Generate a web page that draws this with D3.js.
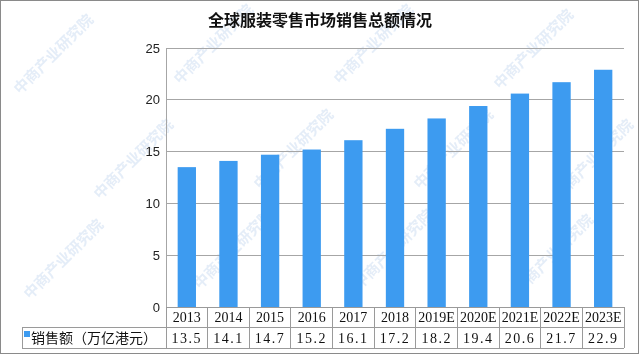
<!DOCTYPE html>
<html><head><meta charset="utf-8">
<script src="https://cdn.jsdelivr.net/npm/d3@7/dist/d3.min.js"></script>
<style>body{margin:0;background:#fff}svg{display:block}</style>
</head><body>
<svg id="c" width="640" height="356"></svg>
<script>
const categories = ["2013","2014","2015","2016","2017","2018","2019E","2020E","2021E","2022E","2023E"];
const values = [13.5,14.1,14.7,15.2,16.1,17.2,18.2,19.4,20.6,21.7,22.9];
const yTicks = [0,5,10,15,20,25];
const seriesName = "销售额（万亿港元）";
const title = "全球服装零售市场销售总额情况";

const svg = d3.select("#c");
const L = 166, R = 624, T = 48, B = 307;
const rowMid = 327, rowBot = 348, legL = 22;
const grid = "#a6a6a6", tbl = "#9a9a9a";

// watermark (kept fully inside the frame)
const wm = svg.append("g").attr("fill","#d3e1f3").attr("opacity",0.6)
  .attr("font-family","Noto Sans CJK SC").attr("font-size",15).attr("font-weight","bold");
const wmPos = [[20,95],[180,85],[340,85],[500,90],
  [100,200],[260,190],[420,190],[560,200],
  [30,300],[200,290],[360,290],[520,295]];
wmPos.forEach(([x,y])=>{
  wm.append("text").attr("transform",`translate(${x},${y}) rotate(-45)`).text("中商产业研究院");
});

svg.append("text").attr("x",320).attr("y",26).attr("text-anchor","middle")
  .attr("font-family","Noto Sans CJK SC").attr("font-weight","bold").attr("font-size",16)
  .attr("fill","#111").text(title);

const x = d3.scaleBand().domain(categories).range([L,R]).paddingInner(0.56).paddingOuter(0.28);
const y = d3.scaleLinear().domain([0,25]).range([B,T]);

// gridlines
svg.append("g").selectAll("line").data(yTicks.filter(t=>t>0)).join("line")
  .attr("x1",L).attr("x2",R).attr("y1",d=>y(d)).attr("y2",d=>y(d))
  .attr("stroke",grid).attr("stroke-width",1).attr("shape-rendering","crispEdges");
svg.append("line").attr("x1",L).attr("x2",L).attr("y1",T).attr("y2",rowBot)
  .attr("stroke",grid).attr("shape-rendering","crispEdges");

// y axis labels
const yAxis = d3.axisLeft(y).tickValues(yTicks).tickSize(0).tickPadding(6);
const ya = svg.append("g").attr("transform",`translate(${L},0)`).call(yAxis);
ya.select(".domain").remove();
ya.selectAll("text").attr("font-family","Liberation Sans, Arial").attr("font-size",13).attr("fill","#222");

// bars
svg.append("g").selectAll("rect").data(values).join("rect")
  .attr("x",(d,i)=>x(categories[i])).attr("width",x.bandwidth())
  .attr("y",d=>y(d)).attr("height",d=>B-y(d)).attr("fill","#3d9bf0");

// table
const bounds = d3.range(categories.length+1).map(i=>L + i*(R-L)/categories.length);
const tg = svg.append("g").attr("stroke",tbl).attr("shape-rendering","crispEdges");
tg.append("line").attr("x1",L).attr("x2",R).attr("y1",B).attr("y2",B);
tg.append("line").attr("x1",legL).attr("x2",R).attr("y1",rowMid).attr("y2",rowMid);
tg.append("line").attr("x1",legL).attr("x2",R).attr("y1",rowBot).attr("y2",rowBot);
tg.append("line").attr("x1",legL).attr("x2",legL).attr("y1",rowMid).attr("y2",rowBot);
tg.selectAll("line.v").data(bounds).join("line").attr("class","v")
  .attr("x1",d=>d).attr("x2",d=>d).attr("y1",B).attr("y2",rowBot);

const cx = c => x(c) + x.bandwidth()/2;
svg.append("g").selectAll("text").data(categories).join("text")
  .attr("x",d=>cx(d)).attr("y",322).attr("text-anchor","middle")
  .attr("font-family","Liberation Serif, DejaVu Serif").attr("font-size",14).attr("fill","#111")
  .text(d=>d);
svg.append("g").selectAll("text").data(values).join("text")
  .attr("x",(d,i)=>cx(categories[i])).attr("y",343).attr("text-anchor","middle")
  .attr("font-family","Liberation Serif, DejaVu Serif").attr("font-size",14).attr("fill","#111")
  .attr("letter-spacing",1.5)
  .text(d=>d.toFixed(1));

svg.append("rect").attr("x",24).attr("y",331).attr("width",6).attr("height",6).attr("fill","#3d9bf0");
svg.append("text").attr("x",31).attr("y",343)
  .attr("font-family","Noto Sans CJK SC").attr("font-size",14).attr("fill","#111").text(seriesName);

// outer frame
svg.append("rect").attr("x",0.5).attr("y",0.5).attr("width",638).attr("height",353)
  .attr("fill","none").attr("stroke","#8a8a8a");
</script>
</body></html>
